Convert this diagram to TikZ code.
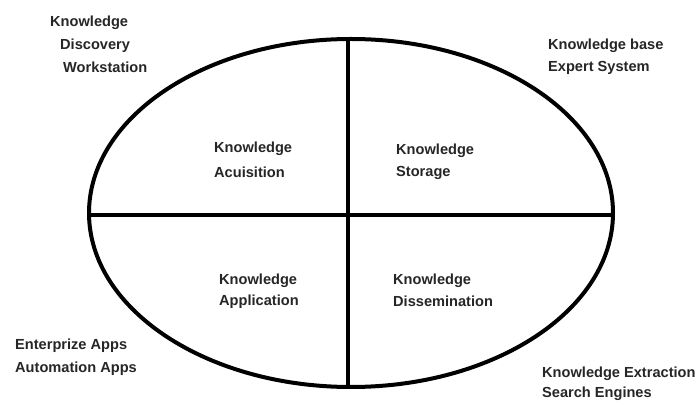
\documentclass[tikz,border=0pt]{standalone}
\usetikzlibrary{shapes.geometric}
\usepackage{fontspec}
\setmainfont{Liberation Sans}
\begin{document}
\begin{tikzpicture}[x=1pt,y=-1pt,
  lbl/.style={anchor=base west,inner sep=0pt,align=left,text=black!85,
    font=\bfseries\fontsize{14.6}{23}\selectfont},
  bold line/.style={line width=4pt,black}]
\useasboundingbox[fill=white] (0,0) rectangle (697,403);
\node[draw,bold line,ellipse,minimum width=524pt,minimum height=348pt,inner sep=0pt] (ell) at (351,213) {};
\coordinate (top) at (348,39);
\coordinate (bot) at (348,387);
\coordinate (lft) at (89,215);
\coordinate (rgt) at (613,215);
\draw[bold line] (top) -- (bot);
\draw[bold line] (lft) -- (rgt);
\node[lbl,font=\bfseries\fontsize{14.6}{25}\selectfont] (acq) at (214,178) {Knowledge\\Acuisition};
\node[lbl,font=\bfseries\fontsize{14.6}{22}\selectfont] (sto) at (396,177) {Knowledge\\Storage};
\node[lbl,font=\bfseries\fontsize{14.6}{21}\selectfont] (app) at (219,306) {Knowledge\\Application};
\node[lbl,font=\bfseries\fontsize{14.6}{22}\selectfont] (dis) at (393,307) {Knowledge\\Dissemination};
\node[lbl] (kdw) at (50,73) {Knowledge\\\hspace*{10pt}Discovery\\\hspace*{13pt}Workstation};
\node[lbl,font=\bfseries\fontsize{14.6}{22}\selectfont] (kbe) at (548,72) {Knowledge base\\Expert System};
\node[lbl] (ent) at (15,373) {Enterprize Apps\\Automation Apps};
\node[lbl,font=\bfseries\fontsize{14.6}{20}\selectfont] (kes) at (542,398) {Knowledge Extraction\\Search Engines};
\end{tikzpicture}
\end{document}
